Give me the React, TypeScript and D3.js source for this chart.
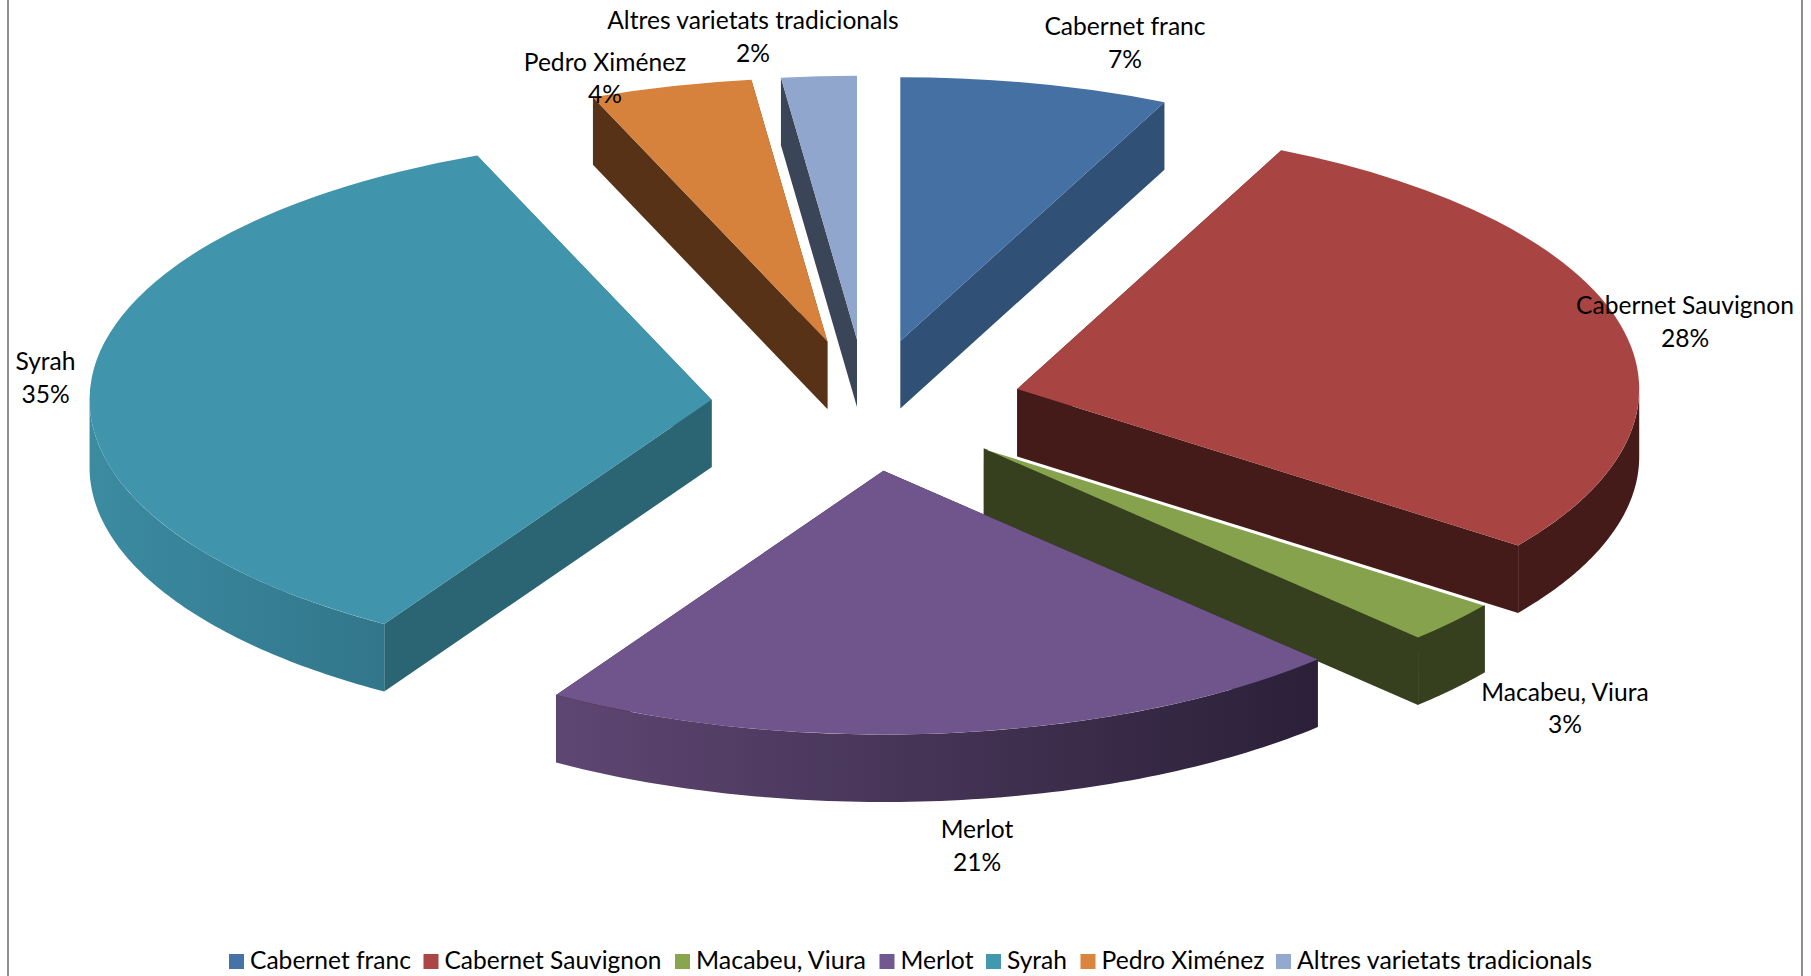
import React from "react";
import * as d3 from "d3";

const categories = ["Cabernet franc", "Cabernet Sauvignon", "Macabeu, Viura", "Merlot", "Syrah", "Pedro Ximénez", "Altres varietats tradicionals"];
const shares = [6.98, 28.12, 2.6, 21.12, 35.03, 4.2, 1.95];
const topColors = ["#4570a3", "#a84543", "#87a24c", "#6f558c", "#4094ab", "#d6813c", "#91a6cc"];
const legendColors = ["#4572a7", "#aa4643", "#89a54e", "#71588f", "#4198af", "#db843d", "#93a9cf"];
const faceColors = ["#305076", "#441b19", "#36401e", "#2d2139", "#2b6473", "#583216", "#3a4557"];
const wallFrom = ["#305076", "#441b19", "#36401e", "#5e4672", "#3b8ba1", "#583216", "#3a4557"];
const wallTo = ["#305076", "#441b19", "#36401e", "#2b2038", "#32768b", "#583216", "#3a4557"];

const W = 1811, H = 976;
const CX = 866.5, CY = 405.3, RX = 622, RY = 263.7, DEPTH = 67.5, EXPLODE = 0.25;
const FONT = "Lato, 'Noto Sans', sans-serif";
const FONT_SIZE = 24.6;

// Slices painted back to front
const paintOrder = [0, 6, 5, 4, 1, 2, 3];
const labelLayout = [
  { cx: 1125, y1: 35, y2: 68 },
  { cx: 1685, y1: 314, y2: 347 },
  { cx: 1565, y1: 701, y2: 733 },
  { cx: 977, y1: 838, y2: 871 },
  { cx: 45.5, y1: 370, y2: 403 },
  { cx: 605, y1: 71, y2: 103 },
  { cx: 753, y1: 29, y2: 62 },
];
const legendLayout = [
  { sx: 229, tx: 250, tw: 161 },
  { sx: 423.5, tx: 444.5, tw: 217 },
  { sx: 675, tx: 696, tw: 170 },
  { sx: 879.5, tx: 900.5, tw: 73 },
  { sx: 986, tx: 1007, tw: 60 },
  { sx: 1080.5, tx: 1101.5, tw: 163 },
  { sx: 1276, tx: 1297, tw: 295 },
];

const pie = d3.pie<number>().sort(null).startAngle(0).endAngle(2 * Math.PI);
const arcs = pie(shares);
const topArc = d3.arc<any>().innerRadius(0).outerRadius(RX);
const polyline = d3.line<[number, number]>();

const onRim = (a: number, ox: number, oy: number): [number, number] => [ox + RX * Math.sin(a), oy - RY * Math.cos(a)];

function Slice({ i }: { i: number }) {
  const a = arcs[i];
  const mid = (a.startAngle + a.endAngle) / 2;
  const ox = CX + EXPLODE * RX * Math.sin(mid);
  const oy = CY - EXPLODE * RY * Math.cos(mid);
  const s = onRim(a.startAngle, ox, oy);
  const e = onRim(a.endAngle, ox, oy);
  const face = (p: [number, number]) =>
    polyline([[ox, oy], p, [p[0], p[1] + DEPTH], [ox, oy + DEPTH]]) + "Z";
  const w0 = Math.max(a.startAngle, Math.PI / 2);
  const w1 = Math.min(a.endAngle, (3 * Math.PI) / 2);
  let wall: string | null = null;
  let xs: number[] = [0, 1];
  if (w1 > w0) {
    const t = d3.scaleLinear().domain([0, 80]).range([w0, w1]);
    const up = d3.range(81).map((k) => onRim(t(k), ox, oy));
    const down = up.slice().reverse().map((p) => [p[0], p[1] + DEPTH] as [number, number]);
    wall = polyline(up.concat(down)) + "Z";
    xs = d3.extent(up, (p) => p[0]) as number[];
  }
  return (
    <g>
      <defs>
        <linearGradient id={`wall${i}`} gradientUnits="userSpaceOnUse" x1={xs[0]} x2={xs[1]} y1={0} y2={0}>
          <stop offset="0" stopColor={wallFrom[i]} />
          <stop offset="1" stopColor={wallTo[i]} />
        </linearGradient>
      </defs>
      <path d={face(s)} fill={faceColors[i]} />
      <path d={face(e)} fill={faceColors[i]} />
      {wall && <path d={wall} fill={`url(#wall${i})`} />}
      <path
        d={topArc(a) as string}
        transform={`translate(${ox},${oy}) scale(1,${RY / RX})`}
        fill={topColors[i]}
      />
      {categories[i].startsWith("Macabeu") && (
        <line x1={ox + 4} y1={oy + 1} x2={s[0]} y2={s[1]} stroke="#fff" strokeWidth={1.6} />
      )}
    </g>
  );
}

export default function App() {
  return (
    <svg
      width={W}
      height={H}
      viewBox={`0 0 ${W} ${H}`}
      style={{ position: "absolute", left: 0, top: 0, display: "block", background: "#fff" }}
      fontFamily={FONT}
      fontSize={FONT_SIZE}
    >
      <line x1={8} x2={8} y1={0} y2={H} stroke="#8e8e8e" strokeWidth={2} />
      <line x1={1802} x2={1802} y1={0} y2={H} stroke="#8e8e8e" strokeWidth={2} />
      {paintOrder.map((i) => (
        <Slice key={i} i={i} />
      ))}
      {categories.map((c, i) => (
        <g key={c} textAnchor="middle" fill="#000">
          <text x={labelLayout[i].cx} y={labelLayout[i].y1}>{c}</text>
          <text x={labelLayout[i].cx} y={labelLayout[i].y2}>{d3.format(".0f")(shares[i])}%</text>
        </g>
      ))}
      {categories.map((c, i) => (
        <g key={c}>
          <rect x={legendLayout[i].sx} y={954} width={15} height={15} fill={legendColors[i]} />
          <text x={legendLayout[i].tx} y={969} textLength={legendLayout[i].tw} lengthAdjust="spacingAndGlyphs" fill="#000">{c}</text>
        </g>
      ))}
    </svg>
  );
}
